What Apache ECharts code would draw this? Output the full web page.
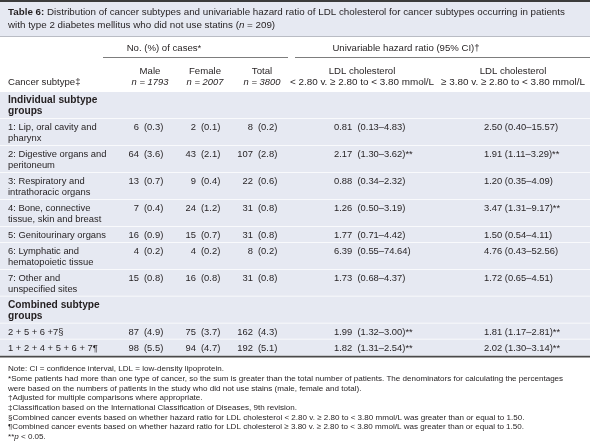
<!DOCTYPE html>
<html><head><meta charset="utf-8">
<script src="https://cdn.jsdelivr.net/npm/echarts@6/dist/echarts.min.js"></script>
<style>html,body{margin:0;padding:0;background:#fff}#c{width:590px;height:443px}</style>
</head><body><div id="c"></div>
<script>
// ---- data ----
const subtypeLabels = [
  ["Individual subtype", "groups"],
  ["1: Lip, oral cavity and", "pharynx"],
  ["2: Digestive organs and", "peritoneum"],
  ["3: Respiratory and", "intrathoracic organs"],
  ["4: Bone, connective", "tissue, skin and breast"],
  ["5: Genitourinary organs"],
  ["6: Lymphatic and", "hematopoietic tissue"],
  ["7: Other and", "unspecified sites"],
  ["Combined subtype", "groups"],
  ["2 + 5 + 6 +7§"],
  ["1 + 2 + 4 + 5 + 6 + 7¶"]
];
const isSection = [true, false, false, false, false, false, false, false, true, false, false];
const maleN     = [null, 6, 64, 13, 7, 16, 4, 15, null, 87, 98];
const malePct   = [null, 0.3, 3.6, 0.7, 0.4, 0.9, 0.2, 0.8, null, 4.9, 5.5];
const femaleN   = [null, 2, 43, 9, 24, 15, 4, 16, null, 75, 94];
const femalePct = [null, 0.1, 2.1, 0.4, 1.2, 0.7, 0.2, 0.8, null, 3.7, 4.7];
const totalN    = [null, 8, 107, 22, 31, 31, 8, 31, null, 162, 192];
const totalPct  = [null, 0.2, 2.8, 0.6, 0.8, 0.8, 0.2, 0.8, null, 4.3, 5.1];
const hrLow     = [null, 0.81, 2.17, 0.88, 1.26, 1.77, 6.39, 1.73, null, 1.99, 1.82];
const hrLowLo   = [null, 0.13, 1.30, 0.34, 0.50, 0.71, 0.55, 0.68, null, 1.32, 1.31];
const hrLowHi   = [null, 4.83, 3.62, 2.32, 3.19, 4.42, 74.64, 4.37, null, 3.00, 2.54];
const hrLowSig  = [false, false, true, false, false, false, false, false, false, true, true];
const hrHigh    = [null, 2.50, 1.91, 1.20, 3.47, 1.50, 4.76, 1.72, null, 1.81, 2.02];
const hrHighLo  = [null, 0.40, 1.11, 0.35, 1.31, 0.54, 0.43, 0.65, null, 1.17, 1.30];
const hrHighHi  = [null, 15.57, 3.29, 4.09, 9.17, 4.11, 52.56, 4.51, null, 2.81, 3.14];
const hrHighSig = [false, false, true, false, true, false, false, false, false, true, true];

const captionText = "Distribution of cancer subtypes and univariable hazard ratio of LDL cholesterol for cancer subtypes occurring in patients";
const captionText2 = "with type 2 diabetes mellitus who did not use statins (";
const groupHeads = ["No. (%) of cases*", "Univariable hazard ratio (95% CI)†"];
const colHeads = [["Male", "n = 1793"], ["Female", "n = 2007"], ["Total", "n = 3800"],
  ["LDL cholesterol", "< 2.80 v. ≥ 2.80 to < 3.80 mmol/L"], ["LDL cholesterol", "≥ 3.80 v. ≥ 2.80 to < 3.80 mmol/L"]];
const notes = [
  "Note: CI = confidence interval, LDL = low-density lipoprotein.",
  "*Some patients had more than one type of cancer, so the sum is greater than the total number of patients. The denominators for calculating the percentages",
  "were based on the numbers of patients in the study who did not use stains (male, female and total).",
  "†Adjusted for multiple comparisons where appropriate.",
  "‡Classification based on the International Classification of Diseases, 9th revision.",
  "§Combined cancer events based on whether hazard ratio for LDL cholesterol < 2.80 v. ≥ 2.80 to < 3.80 mmol/L was greater than or equal to 1.50.",
  "¶Combined cancer events based on whether hazard ratio for LDL cholesterol ≥ 3.80 v. ≥ 2.80 to < 3.80 mmol/L was greater than or equal to 1.50.",
  "**p < 0.05."
];

// ---- layout / style ----
const FONT = "Liberation Sans";
const FS = 9.4;
const CFS = 9.8;
const NFS = 8.05;
const TXT = "#231f20";
const BG = "#e6e9f2";
const ROW_PAD = 0.45, LINE = 11; // row height units (1 unit = LINE px)
const rows = [];
let acc = 0;
subtypeLabels.forEach((l, i) => { const h = ROW_PAD + l.length; rows.push([i, acc, acc + h]); acc += h; });
const TOTAL = acc;
const GRID_TOP = 92;

const COL = { sub: 8, maleR: 139, maleL: 144, femR: 196, femL: 201, totR: 253, totL: 258, h1: 334, h2: 484 };

function f1(v) { return v.toFixed(1); }
function f2(v) { return v.toFixed(2); }

function txt(x, y, s, align, opt) {
  opt = opt || {};
  return { type: 'text', silent: true, style: {
    x: x, y: y, text: s, align: align, verticalAlign: 'middle',
    textAlign: align, textVerticalAlign: 'middle',
    fontFamily: FONT, fontSize: opt.size || FS, fontWeight: opt.bold ? 'bold' : 'normal',
    fontStyle: opt.italic ? 'italic' : 'normal', fill: TXT, rich: opt.rich } };
}

function renderItem(params, api) {
  const i = api.value(0);
  const yTop = api.coord([0, api.value(1)])[1];
  const yBot = api.coord([0, api.value(2)])[1];
  const X = k => api.coord([COL[k], 0])[0];
  const kids = [];
  kids.push({ type: 'rect', shape: { x: 0, y: yTop, width: 590, height: yBot - yTop }, style: { fill: BG } });
  if (i < subtypeLabels.length - 1)
    kids.push({ type: 'line', shape: { x1: 0, y1: yBot, x2: 590, y2: yBot }, style: { stroke: '#ffffff', lineWidth: 1.5 } });
  const y1 = yTop + 8.5;
  subtypeLabels[i].forEach((s, j) => kids.push(txt(X('sub'), y1 + j * LINE, s, 'left', { bold: isSection[i], size: isSection[i] ? 10.2 : FS })));
  if (maleN[i] != null) {
    kids.push(txt(X('maleR'), y1, String(maleN[i]), 'right'));
    kids.push(txt(X('maleL'), y1, '(' + f1(malePct[i]) + ')', 'left'));
    kids.push(txt(X('femR'), y1, String(femaleN[i]), 'right'));
    kids.push(txt(X('femL'), y1, '(' + f1(femalePct[i]) + ')', 'left'));
    kids.push(txt(X('totR'), y1, String(totalN[i]), 'right'));
    kids.push(txt(X('totL'), y1, '(' + f1(totalPct[i]) + ')', 'left'));
    kids.push(txt(X('h1'), y1, f2(hrLow[i]) + '  (' + f2(hrLowLo[i]) + '–' + f2(hrLowHi[i]) + ')' + (hrLowSig[i] ? '**' : ''), 'left'));
    kids.push(txt(X('h2'), y1, f2(hrHigh[i]) + ' (' + f2(hrHighLo[i]) + '–' + f2(hrHighHi[i]) + ')' + (hrHighSig[i] ? '**' : ''), 'left'));
  }
  return { type: 'group', children: kids };
}

const graphics = [];
// caption box
graphics.push({ type: 'rect', shape: { x: 0, y: 0, width: 590, height: 36 }, style: { fill: BG }, silent: true });
graphics.push({ type: 'rect', shape: { x: 0, y: 0, width: 590, height: 2 }, style: { fill: '#3c3c3c' }, silent: true });
graphics.push({ type: 'rect', shape: { x: 0, y: 36, width: 590, height: 1 }, style: { fill: '#b9bcc4' }, silent: true });
graphics.push(txt(8, 12.5, '{b|Table 6:} ' + captionText, 'left', { size: CFS, rich: { b: { fontWeight: 'bold', fontFamily: FONT, fontSize: CFS, fill: TXT } } }));
graphics.push(txt(8, 25.5, captionText2 + '{i|n} = 209)', 'left', { size: CFS, rich: { i: { fontStyle: 'italic', fontFamily: FONT, fontSize: CFS, fill: TXT } } }));
// group headers
graphics.push(txt(164, 48, groupHeads[0], 'center', { size: 9.6 }));
graphics.push(txt(406, 48, groupHeads[1], 'center', { size: 9.6 }));
graphics.push({ type: 'rect', shape: { x: 103, y: 57, width: 185, height: 1 }, style: { fill: '#7d7d7d' }, silent: true });
graphics.push({ type: 'rect', shape: { x: 295, y: 57, width: 295, height: 1 }, style: { fill: '#7d7d7d' }, silent: true });
// column headers
const headCx = [150, 205, 262, 362, 513];
colHeads.forEach((h, k) => {
  graphics.push(txt(headCx[k], 71, h[0], 'center', { size: 9.6 }));
  if (k < 3) {
    graphics.push(txt(headCx[k], 82, '{i|' + h[1] + '}', 'center', { rich: { i: { fontStyle: 'italic', fontFamily: FONT, fontSize: FS, fill: TXT } } }));
  } else {
    graphics.push(txt(headCx[k], 82, h[1], 'center', { size: 9.9 }));
  }
});
graphics.push(txt(8, 82, 'Cancer subtype‡', 'left', { size: 9.6 }));
// table bottom rule
graphics.push({ type: 'rect', shape: { x: 0, y: GRID_TOP + TOTAL * LINE, width: 590, height: 2 }, style: { fill: '#4a4a4a' }, silent: true });
// notes
notes.forEach((s, k) => {
  const y = 369 + k * 9.7;
  if (k === 7) graphics.push(txt(8, y, '**{i|p} < 0.05.', 'left', { size: NFS, rich: { i: { fontStyle: 'italic', fontFamily: FONT, fontSize: NFS, fill: TXT } } }));
  else graphics.push(txt(8, y, s, 'left', { size: NFS }));
});

const chart = echarts.init(document.getElementById('c'), null, { renderer: 'canvas' });
chart.setOption({
  animation: false,
  backgroundColor: '#ffffff',
  grid: { left: 0, right: 0, top: GRID_TOP, height: TOTAL * LINE },
  xAxis: { type: 'value', min: 0, max: 590, show: false },
  yAxis: { type: 'value', min: 0, max: TOTAL, inverse: true, show: false },
  series: [{ type: 'custom', renderItem: renderItem, data: rows, silent: true, clip: false }],
  graphic: graphics
});
</script></body></html>
